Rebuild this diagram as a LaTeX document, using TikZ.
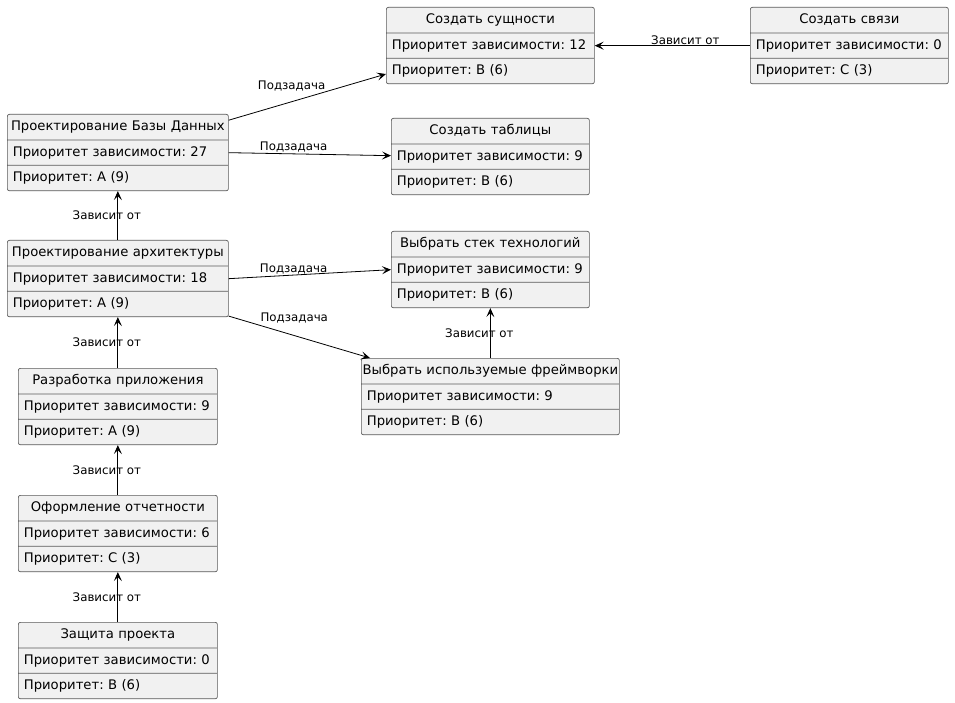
\documentclass[tikz,border=0pt]{standalone}
\usepackage{fontspec}
\setmainfont{DejaVu Sans}
\frenchspacing
\usetikzlibrary{calc, arrows.meta, positioning, shapes.multipart}
\definecolor{objfill}{HTML}{F1F1F1}
\definecolor{objline}{HTML}{5A5A5A}

\begin{document}
\begin{tikzpicture}[x=1pt, y=-1pt,
    obj/.style={rectangle split, rectangle split parts=3, draw=objline, line width=0.7pt,
        fill=objfill, rounded corners=2pt, anchor=north west, inner xsep=5.5pt, inner ysep=6pt,
        text height=9.5pt, text depth=3.5pt, align=left, font=\fontsize{13.2}{15}\selectfont},
    lbl/.style={font=\fontsize{11.8}{13}\selectfont, inner sep=1pt},
    dep/.style={-{Stealth[length=9pt, width=8pt, inset=4pt]}, line width=0.8pt}]
        \useasboundingbox (0,0) rectangle (955,703);

        % objects: name / x / y / width / title / dep. priority / priority
        \foreach \n/\x/\y/\w/\t/\d/\p in
       {nEnt/386/7/197/Создать сущности/12/B (6),
        nLinks/750/7/187/Создать связи/0/C (3),
        nDb/7/114/210/Проектирование Базы Данных/27/A (9),
        nTab/391/118/187/Создать таблицы/9/B (6),
        nArch/7/240/210/Проектирование архитектуры/18/A (9),
        nStack/391/231/187/Выбрать стек технологий/9/B (6),
        nFw/361/358/247/Выбрать используемые фреймворки/9/B (6),
        nDev/18/368/188/Разработка приложения/9/A (9),
        nRep/18/495/188/Оформление отчетности/6/C (3),
        nDef/18/622/188/Защита проекта/0/B (6)
        }
        {
            \node[obj, text width=\w pt] (\n) at (\x,\y)
                {\hbox to \w pt{\hss\t\hss}\nodepart{two}Приоритет зависимости: \d\nodepart{three}Приоритет: \p};
        };

        % subtasks
        \draw[dep] ([yshift=7pt]nDb.one east) -- node[lbl, above, pos=0.4, yshift=9pt] {Подзадача} ([yshift=-3pt]nEnt.three west);
        \draw[dep] (nDb.two east) -- node[lbl, above, pos=0.4] {Подзадача} ([yshift=1pt]nTab.two west);
        \draw[dep] (nArch.two east) -- node[lbl, above, pos=0.4] {Подзадача} (nStack.two west);
        \draw[dep] ([yshift=1pt]nArch.south east) -- node[lbl, above, pos=0.45, yshift=10pt, xshift=2pt] {Подзадача} ([xshift=9pt]nFw.north west);

        % dependencies
        \foreach \a/\b in {nArch/nDb, nDev/nArch, nRep/nDev, nDef/nRep, nFw/nStack}
        {
            \draw[dep] (\a.north) -- node[lbl, xshift=-11pt] {Зависит от} (\b.south);
        };
        \draw[dep] (nLinks.two west) -- node[lbl, above, xshift=13pt] {Зависит от} (nEnt.two east);
    \end{tikzpicture}
\end{document}
